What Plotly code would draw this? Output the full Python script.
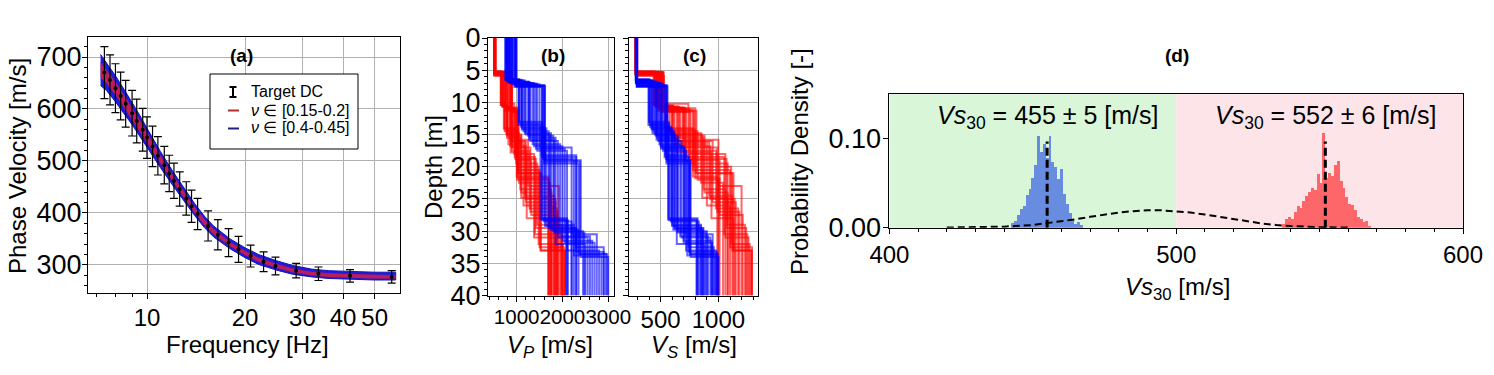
import math
import plotly.graph_objects as go

W, H = 1494, 375
FONT = "Liberation Sans, Arial, sans-serif"
XTICK = 24
YTICK = 27
TITLE = 24

# ---------------- (a) dispersion curves ----------------
dc_freq = [7.4, 7.7, 8.0, 8.3, 8.6, 9.0, 9.3, 9.7, 10.0, 10.4, 10.8, 11.3, 11.7, 12.1, 12.6,
           13.2, 13.7, 14.3, 15.4, 16.5, 17.8, 19.1, 20.8, 22.8, 24.8, 28.7, 33.6, 42.0, 56.4]
dc_vel = [670, 656, 640, 625, 610, 592, 577, 560, 545, 528, 510, 492, 476, 462, 446,
          428, 413, 398, 375, 358, 343, 330, 317, 306, 298, 289, 283, 279, 277]
dc_err = [50, 48, 47, 46, 45, 44, 42, 41, 40, 39, 37, 36, 35, 34, 33,
          32, 31, 30, 29, 29, 27, 25, 21, 19, 17, 14, 13, 12, 12]

model_freq = [7.2, 7.5, 8.0, 8.5, 9.0, 9.5, 10.0, 11.0, 12.0, 13.0, 14.0, 15.0, 16.0, 18.0,
              20.0, 22.0, 25.0, 28.0, 32.0, 36.0, 42.0, 50.0, 58.0]
blue_hi = [705, 690, 664, 638, 613, 588, 563, 518, 480, 447, 418, 394, 375, 350, 333, 320, 308, 299, 292, 289, 287, 286, 286]
blue_lo = [645, 636, 614, 591, 570, 549, 527, 487, 453, 422, 395, 372, 354, 331, 314, 301, 290, 282, 277, 274, 272, 271, 271]
red_hi = [690, 676, 652, 627, 603, 579, 555, 510, 473, 440, 411, 388, 369, 344, 327, 314, 302, 293, 287, 284, 282, 281, 280]
red_lo = [660, 650, 627, 603, 580, 558, 535, 495, 460, 428, 400, 377, 359, 336, 319, 306, 294, 286, 280, 277, 275, 274, 274]

freq_ticks = [10, 20, 30, 40, 50]
freq_minor = [7, 8, 9]
vel_ticks = [300, 400, 500, 600, 700]

# ---------------- (b),(c) velocity profiles (one value per model) ----------------
red_h1 = [5.2, 5.3, 5.4, 5.5, 5.3, 5.6, 5.2, 5.4, 5.7, 5.5, 5.3, 5.8, 5.4, 5.6, 5.5, 5.9,
          5.3, 5.5, 5.4, 5.6, 5.2, 5.7, 5.4, 5.5]
red_h2 = [10.3, 10.6, 11.0, 10.5, 11.2, 10.8, 10.4, 11.5, 10.7, 11.0, 10.9, 11.3, 10.6, 10.2, 11.1, 10.8,
          10.5, 10.9, 11.4, 10.4, 11.0, 10.7, 11.3, 10.6]
red_h3 = [14.5, 16.0, 18.5, 15.2, 20.5, 17.0, 14.0, 19.5, 16.5, 15.8, 21.0, 17.8, 14.8, 18.0, 16.2, 19.0,
          15.5, 17.5, 20.0, 14.2, 18.8, 16.8, 21.0, 15.0]
red_h4 = [22.0, 25.5, 30.5, 24.0, 32.5, 27.0, 21.5, 29.0, 26.0, 23.0, 33.0, 28.0, 22.5, 31.0, 24.5, 27.5,
          23.5, 26.5, 32.0, 21.8, 29.5, 25.0, 33.0, 24.8]
red_vs1 = [285, 290, 282, 295, 288, 292, 286, 298, 284, 290, 294, 287, 291, 283, 296, 289,
           287, 293, 289, 284, 297, 288, 291, 286]
red_vs2 = [450, 480, 510, 470, 525, 495, 440, 505, 460, 490, 515, 475, 455, 500, 485, 530,
           465, 495, 520, 445, 505, 480, 525, 460]
red_vs3 = [560, 650, 720, 600, 780, 690, 540, 760, 620, 700, 800, 640, 580, 740, 670, 710,
           610, 700, 790, 550, 750, 660, 810, 600]
red_vs4 = [820, 950, 1050, 880, 1100, 990, 780, 1080, 900, 1000, 1120, 940, 850, 1060, 920, 1010,
           870, 980, 1110, 800, 1070, 930, 1130, 860]
red_vs5 = [1000, 1150, 1250, 1080, 1290, 1180, 990, 1230, 1100, 1200, 1280, 1130, 1040, 1260, 1120, 1210,
           1060, 1170, 1270, 1010, 1240, 1140, 1290, 1080]
red_vp1 = [505, 520, 510, 535, 515, 525, 508, 540, 512, 522, 530, 515, 520, 507, 538, 518,
           512, 528, 518, 506, 536, 514, 525, 510]
red_vp2 = [660, 760, 850, 720, 900, 800, 650, 870, 700, 780, 880, 740, 680, 820, 750, 890,
           700, 800, 880, 660, 850, 760, 900, 690]
red_vp3 = [740, 860, 960, 800, 1020, 900, 720, 990, 820, 920, 1040, 870, 780, 950, 880, 1000,
           790, 900, 1010, 740, 970, 860, 1040, 780]
red_vp4 = [1010, 1200, 1400, 1100, 1500, 1300, 1000, 1450, 1150, 1250, 1530, 1220, 1050, 1380, 1180, 1320,
           1080, 1280, 1480, 1020, 1420, 1200, 1520, 1100]
red_vp5 = [1700, 1850, 1980, 1760, 2040, 1900, 1690, 2000, 1800, 1920, 2050, 1830, 1730, 1960, 1820, 1880,
           1750, 1880, 2010, 1700, 1980, 1850, 2050, 1760]

blue_h1 = [6.4, 6.6, 6.9, 7.1, 6.5, 7.4, 6.8, 7.6, 6.7, 7.0, 7.3, 6.5, 7.2, 6.9, 7.5, 6.6,
           6.5, 6.8, 7.1, 7.4, 6.6, 7.0, 7.5, 6.9]
blue_h2 = [13.0, 14.5, 16.0, 17.5, 13.8, 19.0, 15.2, 18.2, 14.0, 16.8, 19.5, 13.5, 17.0, 15.5, 18.8, 14.8,
           13.3, 15.8, 17.2, 18.5, 14.2, 16.5, 19.2, 15.0]
blue_h3 = [28.0, 29.5, 31.0, 33.0, 28.5, 34.0, 30.0, 32.5, 29.0, 31.5, 33.5, 28.2, 30.5, 32.0, 33.8, 29.8,
           28.3, 30.2, 31.8, 33.2, 29.2, 30.8, 33.6, 29.6]
blue_vs1 = [288, 292, 286, 295, 290, 298, 287, 293, 291, 289, 296, 285, 294, 290, 297, 288,
            289, 291, 294, 296, 287, 292, 297, 290]
blue_vs2 = [400, 440, 480, 520, 410, 560, 460, 540, 420, 500, 550, 395, 510, 470, 545, 430,
            405, 465, 505, 535, 425, 490, 555, 450]
blue_vs3 = [570, 620, 680, 720, 590, 760, 650, 740, 600, 700, 750, 565, 710, 640, 730, 610,
            575, 645, 700, 745, 600, 670, 755, 625]
blue_vs4 = [820, 870, 930, 980, 830, 1000, 900, 960, 850, 940, 990, 810, 950, 880, 970, 860,
            815, 890, 945, 985, 845, 910, 995, 865]
blue_vp1 = [760, 800, 850, 900, 780, 980, 830, 950, 790, 880, 960, 750, 920, 860, 1000, 810,
            770, 840, 900, 970, 790, 860, 990, 820]
blue_vp2 = [1050, 1150, 1300, 1450, 1100, 1620, 1250, 1550, 1120, 1380, 1600, 1040, 1500, 1280, 1580, 1180,
            1060, 1270, 1420, 1560, 1110, 1350, 1610, 1200]
blue_vp3 = [1550, 1700, 1900, 2100, 1600, 2400, 1800, 2300, 1650, 2000, 2350, 1520, 2200, 1850, 2250, 1750,
            1560, 1820, 2050, 2300, 1620, 1950, 2380, 1720]
blue_vp4 = [2100, 2300, 2550, 2800, 2200, 3000, 2450, 2900, 2250, 2650, 2950, 2080, 2750, 2500, 2850, 2350,
            2120, 2480, 2700, 2900, 2200, 2600, 2980, 2300]

max_depth = 40.0
depth_ticks = [0, 5, 10, 15, 20, 25, 30, 35, 40]
vp_ticks = [1000, 2000, 3000]
vs_ticks = [500, 1000]

# ---------------- (d) Vs30 distributions ----------------
blue_bins = [443, 444, 445, 446, 447, 448, 449, 450, 451, 452, 453, 454, 455, 456, 457,
             458, 459, 460, 461, 462, 463, 464, 465, 466, 467]
blue_density = [0.005, 0.008, 0.014, 0.021, 0.024, 0.037, 0.043, 0.056, 0.071, 0.103, 0.085, 0.094, 0.078, 0.103, 0.074,
                0.068, 0.055, 0.066, 0.038, 0.027, 0.016, 0.009, 0.004, 0.006, 0.003]
red_bins = [537.5, 538.5, 539.5, 540.5, 541.5, 542.5, 543.5, 544.5, 545.5, 546.5, 547.5, 548.5, 549.5, 550.5, 551.5,
            552.5, 553.5, 554.5, 555.5, 556.5, 557.5, 558.5, 559.5, 560.5, 561.5, 562.5, 563.5, 564.5, 565.5, 566.5, 567.5]
red_density = [0.004, 0.010, 0.012, 0.010, 0.018, 0.024, 0.022, 0.030, 0.036, 0.040, 0.045, 0.042, 0.060, 0.050, 0.106,
               0.056, 0.062, 0.058, 0.071, 0.075, 0.052, 0.045, 0.035, 0.027, 0.026, 0.020, 0.012, 0.010, 0.006, 0.008, 0.002]
prior_x = [420, 430, 440, 450, 460, 465, 470, 475, 480, 485, 490, 495, 500, 505, 510, 515, 520, 525, 530, 535, 540, 550, 560]
prior_y = [0.0002, 0.0005, 0.0012, 0.0030, 0.0068, 0.0095, 0.0122, 0.0148, 0.0170, 0.0186, 0.0195, 0.0195, 0.0186,
           0.0170, 0.0148, 0.0122, 0.0095, 0.0069, 0.0047, 0.0030, 0.0018, 0.0006, 0.0002]
vs30_blue_mean, vs30_blue_std = 455, 5
vs30_red_mean, vs30_red_std = 552, 6
mean_line_top = 0.097
vs30_ticks = [400, 500, 600]
dens_ticks = [0.0, 0.1]

# ---------------- helpers ----------------
def fx(p):
    return p / W


def fy(p):
    return 1 - p / H


def profile_xy(bounds, vels):
    xs, ys = [], []
    top = 0.0
    for k, v in enumerate(vels):
        bottom = bounds[k] if k < len(bounds) else max_depth
        xs += [v, v]
        ys += [top, bottom]
        top = bottom
    return xs, ys


fig = go.Figure()

# (a) model bands
fig.add_trace(go.Scatter(x=model_freq + model_freq[::-1], y=blue_hi + blue_lo[::-1],
                         fill="toself", fillcolor="rgb(28,28,222)", mode="lines",
                         line=dict(color="rgb(20,20,190)", width=1), xaxis="x", yaxis="y",
                         showlegend=False, hoverinfo="skip"))
fig.add_trace(go.Scatter(x=model_freq + model_freq[::-1], y=red_hi + red_lo[::-1],
                         fill="toself", fillcolor="rgba(215,30,70,0.85)", mode="lines",
                         line=dict(color="rgba(180,20,60,0.6)", width=0.5), xaxis="x", yaxis="y",
                         showlegend=False, hoverinfo="skip"))
fig.add_trace(go.Scatter(x=dc_freq, y=dc_vel, mode="markers",
                         marker=dict(color="black", size=4),
                         error_y=dict(type="data", array=dc_err, color="black", thickness=1.2, width=4),
                         xaxis="x", yaxis="y", showlegend=False))

# (b),(c) profiles: red set then blue set on top
red_vs = list(zip(red_vs1, red_vs2, red_vs3, red_vs4, red_vs5))
red_vp = list(zip(red_vp1, red_vp2, red_vp3, red_vp4, red_vp5))
red_b = list(zip(red_h1, red_h2, red_h3, red_h4))
blue_vs = list(zip(blue_vs1, blue_vs2, blue_vs3, blue_vs4))
blue_vp = list(zip(blue_vp1, blue_vp2, blue_vp3, blue_vp4))
blue_b = list(zip(blue_h1, blue_h2, blue_h3))

RED_L = "rgba(255,0,0,0.6)"
BLUE_L = "rgba(0,0,255,0.6)"
for bnds, vps, vss, col in ([(b, p, s, RED_L) for b, p, s in zip(red_b, red_vp, red_vs)] +
                            [(b, p, s, BLUE_L) for b, p, s in zip(blue_b, blue_vp, blue_vs)]):
    x, y = profile_xy(bnds, vps)
    fig.add_trace(go.Scatter(x=x, y=y, mode="lines", line=dict(color=col, width=2),
                             xaxis="x2", yaxis="y2", showlegend=False, hoverinfo="skip"))
    x, y = profile_xy(bnds, vss)
    fig.add_trace(go.Scatter(x=x, y=y, mode="lines", line=dict(color=col, width=2),
                             xaxis="x3", yaxis="y3", showlegend=False, hoverinfo="skip"))

# (d)
fig.add_trace(go.Bar(x=blue_bins, y=blue_density, width=1.0,
                     marker=dict(color="rgba(65,105,225,0.75)", line=dict(width=0)),
                     xaxis="x4", yaxis="y4", showlegend=False))
fig.add_trace(go.Bar(x=red_bins, y=red_density, width=1.0,
                     marker=dict(color="rgba(255,0,0,0.55)", line=dict(width=0)),
                     xaxis="x4", yaxis="y4", showlegend=False))
fig.add_trace(go.Scatter(x=prior_x, y=prior_y, mode="lines",
                         line=dict(color="black", width=2, dash="7px,4px"),
                         xaxis="x4", yaxis="y4", showlegend=False))
for m in (vs30_blue_mean, vs30_red_mean):
    fig.add_trace(go.Scatter(x=[m, m], y=[0, mean_line_top], mode="lines",
                             line=dict(color="black", width=3, dash="8px,4px"),
                             xaxis="x4", yaxis="y4", showlegend=False))

# ---------------- axes ----------------
def tf(size):
    return dict(family=FONT, size=size, color="black")


common = dict(showline=True, mirror=True, linecolor="black", linewidth=1,
              ticks="outside", ticklen=5, tickwidth=1, tickcolor="black",
              zeroline=False, tickangle=0, automargin=False)
grid = dict(showgrid=True, gridcolor="#b0b0b0", gridwidth=1)
nogrid = dict(showgrid=False)
minor_base = dict(ticks="outside", ticklen=3, tickwidth=1, tickcolor="black", showgrid=False)

y_bc = [fy(295.5), fy(38)]

fig.update_layout(
    template="none",
    xaxis=dict(domain=[fx(88), fx(400)], anchor="y", type="log",
               range=[math.log10(6.59), math.log10(59.8)],
               tickmode="array", tickvals=freq_ticks, ticktext=[str(v) for v in freq_ticks], tickfont=tf(XTICK),
               ticklabelstandoff=-2,
               minor=dict(tickmode="array", tickvals=freq_minor, **minor_base), **common, **grid),
    yaxis=dict(domain=[fy(293), fy(37)], anchor="x", range=[246, 738.5],
               tickmode="array", tickvals=vel_ticks, tickfont=tf(YTICK), ticklabelstandoff=-5,
               minor=dict(dtick=20, tick0=0, **minor_base), **common, **grid),
    xaxis2=dict(domain=[fx(488), fx(614)], anchor="y2", range=[375, 3125],
                tickmode="array", tickvals=vp_ticks, tickfont=tf(20.5), ticklabelstandoff=-2,
                minor=dict(dtick=200, tick0=0, **minor_base), **common, **grid),
    yaxis2=dict(domain=y_bc, anchor="x2", range=[max_depth, 0],
                tickmode="array", tickvals=depth_ticks, tickfont=tf(YTICK), ticklabelstandoff=-4,
                minor=dict(dtick=1, tick0=0, **minor_base), **common, **grid),
    xaxis3=dict(domain=[fx(629), fx(758)], anchor="y3", range=[227, 1342],
                tickmode="array", tickvals=vs_ticks, tickfont=tf(XTICK), ticklabelstandoff=-2,
                minor=dict(dtick=100, tick0=0, **minor_base), **common, **grid),
    yaxis3=dict(domain=y_bc, anchor="x3", range=[max_depth, 0],
                tickmode="array", tickvals=depth_ticks, showticklabels=False,
                minor=dict(dtick=1, tick0=0, **minor_base), **common, **grid),
    xaxis4=dict(domain=[fx(889.4), fx(1463)], anchor="y4", range=[400, 600],
                tickmode="array", tickvals=vs30_ticks, tickfont=tf(XTICK),
                minor=dict(dtick=10, tick0=0, **minor_base), **common, **nogrid),
    yaxis4=dict(domain=[fy(227.7), fy(94.3)], anchor="x4", range=[0, 0.15],
                tickmode="array", tickvals=dens_ticks, ticktext=["%.2f" % v for v in dens_ticks],
                tickfont=tf(YTICK), ticklabelstandoff=-3,
                **common, **nogrid),
)

# ---------------- shapes ----------------
shapes = []
shapes.append(dict(type="rect", xref="x4", yref="y4 domain", x0=400, x1=500, y0=0, y1=1,
                   fillcolor="#d9f6d9", line=dict(width=0), layer="below"))
shapes.append(dict(type="rect", xref="x4", yref="y4 domain", x0=500, x1=600, y0=0, y1=1,
                   fillcolor="#fde4e8", line=dict(width=0), layer="below"))
shapes.append(dict(type="rect", xref="paper", yref="paper", x0=fx(210), x1=fx(358), y0=fy(149), y1=fy(74),
                   fillcolor="white", line=dict(color="black", width=1), layer="above"))
shapes.append(dict(type="line", xref="paper", yref="paper", x0=fx(233), x1=fx(233), y0=fy(87), y1=fy(97),
                   line=dict(color="black", width=2), layer="above"))
for yy in (87, 97):
    shapes.append(dict(type="line", xref="paper", yref="paper", x0=fx(229.5), x1=fx(236.5), y0=fy(yy), y1=fy(yy),
                       line=dict(color="black", width=2), layer="above"))
shapes.append(dict(type="line", xref="paper", yref="paper", x0=fx(228), x1=fx(239), y0=fy(110.5), y1=fy(110.5),
                   line=dict(color="#b03030", width=2), layer="above"))
shapes.append(dict(type="line", xref="paper", yref="paper", x0=fx(228), x1=fx(239), y0=fy(128.5), y1=fy(128.5),
                   line=dict(color="#20207a", width=2), layer="above"))

# ---------------- annotations ----------------
ann = []


def text(x, y, s, size=TITLE, angle=0, bold=False, xanchor="center", xref="paper", yref="paper"):
    if bold:
        s = "<b>" + s + "</b>"
    ann.append(dict(x=x, y=y, xref=xref, yref=yref, text=s, showarrow=False, textangle=angle,
                    xanchor=xanchor, yanchor="middle", font=dict(family=FONT, size=size, color="black")))


text(fx(242), fy(55), "(a)", size=19, bold=True)
text(fx(553), fy(55), "(b)", size=19, bold=True)
text(fx(694), fy(55), "(c)", size=19, bold=True)
text(fx(1177), fy(55), "(d)", size=19, bold=True)

text(fx(17), fy(166), "Phase Velocity [m/s]", angle=-90)
text(fx(247), fy(344), "Frequency [Hz]")
text(fx(433), fy(167), "Depth [m]", angle=-90)
text(fx(550), fy(346), "<i>V<sub>P</sub></i> [m/s]")
text(fx(694), fy(346), "<i>V<sub>S</sub></i> [m/s]")
text(fx(800), fy(162), "Probability Density [-]", angle=-90)
text(fx(1177), fy(288), "<i>Vs</i><sub>30</sub> [m/s]")

text(fx(249), fy(91.5), "Target DC", size=16, xanchor="left")
text(fx(249), fy(110), "<i>ν</i> ∈ [0.15-0.2]", size=16, xanchor="left")
text(fx(249), fy(128), "<i>ν</i> ∈ [0.4-0.45]", size=16, xanchor="left")

text(vs30_blue_mean, 0.124, "<i>Vs</i><sub>30</sub> = %d ± %d [m/s]" % (vs30_blue_mean, vs30_blue_std),
     size=25, xref="x4", yref="y4")
text(vs30_red_mean, 0.124, "<i>Vs</i><sub>30</sub> = %d ± %d [m/s]" % (vs30_red_mean, vs30_red_std),
     size=25, xref="x4", yref="y4")

fig.update_layout(
    width=W, height=H, margin=dict(l=0, r=0, t=0, b=0, pad=0), autosize=False,
    paper_bgcolor="white", plot_bgcolor="white",
    font=dict(family=FONT, color="black"),
    shapes=shapes, annotations=ann, barmode="overlay", bargap=0,
    showlegend=False,
)

fig.write_html("out.html", config={"displayModeBar": False, "staticPlot": True},
               post_script="document.body.style.margin='0px';document.body.style.overflow='hidden';")
